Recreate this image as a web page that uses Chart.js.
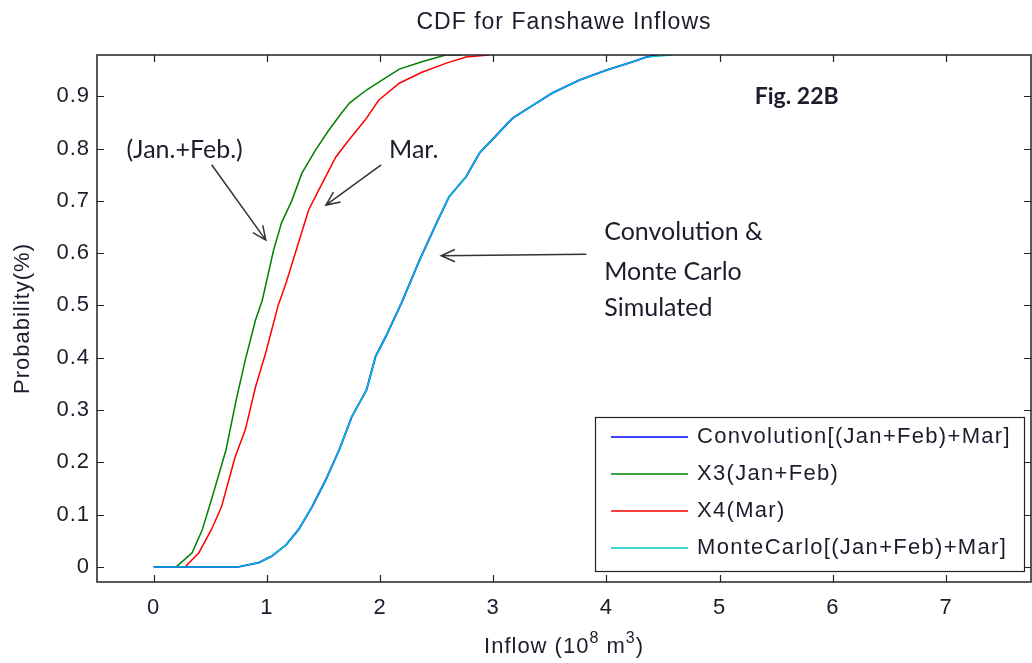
<!DOCTYPE html>
<html>
<head>
<meta charset="utf-8">
<title>CDF for Fanshawe Inflows</title>
<script src="https://cdn.jsdelivr.net/npm/chart.js@4.4.0/dist/chart.umd.min.js"></script>
<style>
    html, body { margin: 0; padding: 0; background: #fff; }
    #wrap { width: 1032px; height: 663px; }
</style>
</head>
<body>
<div id="wrap"><canvas id="cdfChart"></canvas></div>
<script>
// Valores (inflow em 10^8 m3, probabilidade acumulada)
const x3Inflow = [0.20, 0.34, 0.43, 0.51, 0.64, 0.73, 0.81, 0.90, 0.96, 1.06, 1.13, 1.22, 1.31, 1.43, 1.55, 1.66, 1.73, 1.88, 1.99, 2.17, 2.37, 2.58, 2.72];
const x3Prob   = [0, 0.027, 0.071, 0.128, 0.224, 0.320, 0.396, 0.472, 0.510, 0.606, 0.658, 0.700, 0.753, 0.797, 0.836, 0.868, 0.887, 0.912, 0.927, 0.952, 0.966, 0.979, 0.979];

const x4Inflow = [0.28, 0.40, 0.51, 0.60, 0.72, 0.81, 0.90, 0.99, 1.10, 1.17, 1.26, 1.37, 1.49, 1.61, 1.73, 1.87, 1.99, 2.17, 2.37, 2.58, 2.76, 2.96];
const x4Prob   = [0, 0.027, 0.071, 0.115, 0.210, 0.262, 0.344, 0.409, 0.500, 0.543, 0.606, 0.683, 0.734, 0.784, 0.818, 0.855, 0.893, 0.925, 0.946, 0.963, 0.975, 0.979];

const convInflow = [0, 0.75, 0.93, 1.04, 1.17, 1.28, 1.40, 1.52, 1.64, 1.75, 1.88, 1.96, 2.05, 2.19, 2.35, 2.50, 2.61, 2.76, 2.88, 3.03, 3.17, 3.35, 3.52, 3.76, 4.00, 4.23, 4.35, 4.45];
const convProb   = [0, 0, 0.008, 0.020, 0.042, 0.071, 0.115, 0.166, 0.224, 0.287, 0.338, 0.402, 0.440, 0.505, 0.587, 0.658, 0.708, 0.746, 0.792, 0.826, 0.858, 0.883, 0.906, 0.931, 0.950, 0.966, 0.975, 0.979];

const mcInflow = [0, 0.75, 0.93, 1.04, 1.17, 1.28, 1.40, 1.52, 1.64, 1.75, 1.88, 1.96, 2.05, 2.19, 2.35, 2.50, 2.61, 2.76, 2.88, 3.03, 3.17, 3.35, 3.52, 3.76, 4.00, 4.23, 4.35, 4.58];
const mcProb   = [0, 0, 0.008, 0.020, 0.042, 0.071, 0.115, 0.166, 0.224, 0.287, 0.338, 0.402, 0.440, 0.505, 0.587, 0.658, 0.708, 0.746, 0.792, 0.826, 0.858, 0.883, 0.906, 0.931, 0.950, 0.966, 0.975, 0.979];

const xTicks = [0, 1, 2, 3, 4, 5, 6, 7];
const yTicks = [0, 0.1, 0.2, 0.3, 0.4, 0.5, 0.6, 0.7, 0.8, 0.9];

// Anotações (posição em coordenadas dos dados)
const notas = [
    { text: '(Jan.+Feb.)', x: -0.24, y: 0.797 },
    { text: 'Mar.', x: 2.08, y: 0.797 },
    { text: 'Convolution &', x: 3.98, y: 0.641 },
    { text: 'Monte Carlo', x: 3.98, y: 0.564 },
    { text: 'Simulated', x: 3.98, y: 0.495 },
    { text: 'Fig. 22B', x: 5.31, y: 0.899, bold: true }
];
const setas = [
    { from: [0.513, 0.769], to: [0.991, 0.625] },
    { from: [2.01, 0.769], to: [1.522, 0.692] },
    { from: [3.823, 0.598], to: [2.54, 0.595] }
];

const titulo = 'CDF for Fanshawe Inflows';
// rótulo do eixo x: [texto, sobrescrito?]
const rotuloX = [['Inflow (10', false], ['8', true], [' m', false], ['3', true], [')', false]];

const fonteMatlab = '"Liberation Sans", Arial, sans-serif';
const fonteNota = 'Lato, "Open Sans", sans-serif';

function pontos(xs, ys) {
    return xs.map((x, i) => ({ x: x, y: ys[i] }));
}

// Espaçamento de letras parecido com o texto do MATLAB
const espacoPlugin = {
    id: 'espaco',
    beforeDraw(chart) { chart.ctx.letterSpacing = '1px'; }
};

// Moldura estilo MATLAB, ticks para dentro, títulos, legenda e anotações
const molduraPlugin = {
    id: 'moldura',
    afterDraw(chart) {
        const ctx = chart.ctx;
        const area = chart.chartArea;
        const sx = chart.scales.x;
        const sy = chart.scales.y;
        const tl = 7;
        const cx = (area.left + area.right) / 2;

        ctx.save();
        ctx.letterSpacing = '1px';
        ctx.strokeStyle = '#222';
        ctx.lineWidth = 1.5;
        ctx.strokeRect(area.left, area.top, area.right - area.left, area.bottom - area.top);

        ctx.beginPath();
        xTicks.forEach(v => {
            const px = Math.round(sx.getPixelForValue(v)) + 0.5;
            ctx.moveTo(px, area.bottom); ctx.lineTo(px, area.bottom - tl);
            ctx.moveTo(px, area.top); ctx.lineTo(px, area.top + tl);
        });
        yTicks.forEach(v => {
            const py = Math.round(sy.getPixelForValue(v)) + 0.5;
            ctx.moveTo(area.left, py); ctx.lineTo(area.left + tl, py);
            ctx.moveTo(area.right, py); ctx.lineTo(area.right - tl, py);
        });
        ctx.lineWidth = 1.2;
        ctx.stroke();

        // título centrado sobre a área do gráfico
        ctx.fillStyle = '#1c1c2c';
        ctx.textBaseline = 'middle';
        ctx.textAlign = 'center';
        ctx.font = '23px ' + fonteMatlab;
        ctx.fillText(titulo, cx, 23);

        // rótulo do eixo x com sobrescritos
        const fNormal = '22px ' + fonteMatlab, fSup = '16px ' + fonteMatlab;
        let total = 0;
        rotuloX.forEach(p => { ctx.font = p[1] ? fSup : fNormal; total += ctx.measureText(p[0]).width; });
        let xx = cx - total / 2;
        ctx.textAlign = 'left';
        ctx.textBaseline = 'alphabetic';
        rotuloX.forEach(p => {
            ctx.font = p[1] ? fSup : fNormal;
            ctx.fillText(p[0], xx, p[1] ? 643 : 653);
            xx += ctx.measureText(p[0]).width;
        });

        // anotações
        ctx.letterSpacing = '0px';
        ctx.textBaseline = 'middle';
        notas.forEach(n => {
            ctx.font = n.bold ? 'bold 23px ' + fonteNota : '25px ' + fonteNota;
            ctx.fillText(n.text, sx.getPixelForValue(n.x), sy.getPixelForValue(n.y));
        });

        ctx.strokeStyle = '#333';
        ctx.lineWidth = 1.5;
        setas.forEach(s => {
            const x1 = sx.getPixelForValue(s.from[0]), y1 = sy.getPixelForValue(s.from[1]);
            const x2 = sx.getPixelForValue(s.to[0]), y2 = sy.getPixelForValue(s.to[1]);
            const ang = Math.atan2(y2 - y1, x2 - x1);
            const len = 15, abre = 0.42;
            ctx.beginPath();
            ctx.moveTo(x1, y1); ctx.lineTo(x2, y2);
            ctx.moveTo(x2 - len * Math.cos(ang - abre), y2 - len * Math.sin(ang - abre));
            ctx.lineTo(x2, y2);
            ctx.lineTo(x2 - len * Math.cos(ang + abre), y2 - len * Math.sin(ang + abre));
            ctx.stroke();
        });

        // legenda
        const bw = 429, bh = 154;
        const bx = area.right - 7 - bw, by = area.bottom - 11 - bh;
        ctx.fillStyle = '#fff';
        ctx.fillRect(bx, by, bw, bh);
        ctx.strokeStyle = '#222';
        ctx.lineWidth = 1.2;
        ctx.strokeRect(bx + 0.5, by + 0.5, bw, bh);
        ctx.letterSpacing = '1.3px';
        ctx.font = '22px ' + fonteMatlab;
        chart.data.datasets.forEach((ds, i) => {
            const ly = by + 20 + i * 37;
            ctx.beginPath();
            ctx.strokeStyle = ds.borderColor;
            ctx.lineWidth = 1.5;
            ctx.moveTo(bx + 16, ly); ctx.lineTo(bx + 93, ly);
            ctx.stroke();
            ctx.fillStyle = '#1c1c2c';
            ctx.fillText(ds.label, bx + 102, ly);
        });
        ctx.restore();
    }
};

Chart.defaults.font.family = fonteMatlab;
Chart.defaults.color = '#1c1c2c';

const ctxCdf = document.getElementById('cdfChart').getContext('2d');
new Chart(ctxCdf, {
    type: 'line',
    data: {
        datasets: [
            { label: 'Convolution[(Jan+Feb)+Mar]', data: pontos(convInflow, convProb), borderColor: '#0000ff', borderWidth: 1.9, order: 1 },
            { label: 'X3(Jan+Feb)', data: pontos(x3Inflow, x3Prob), borderColor: '#008000', borderWidth: 1.5, order: 1 },
            { label: 'X4(Mar)', data: pontos(x4Inflow, x4Prob), borderColor: '#ff0000', borderWidth: 1.5, order: 1 },
            { label: 'MonteCarlo[(Jan+Feb)+Mar]', data: pontos(mcInflow, mcProb), borderColor: '#00c8c8', borderWidth: 1.4, order: 0 }
        ]
    },
    options: {
        responsive: true,
        maintainAspectRatio: false,
        animation: false,
        devicePixelRatio: 1,
        elements: { point: { radius: 0 }, line: { tension: 0, fill: false } },
        layout: { padding: { left: 0, right: 1, top: 55, bottom: 0 } },
        plugins: {
            legend: { display: false },
            tooltip: { enabled: false },
            title: { display: false }
        },
        scales: {
            x: {
                type: 'linear',
                min: -0.5,
                max: 7.75,
                grid: { display: false, drawTicks: false },
                border: { display: false },
                afterBuildTicks: s => { s.ticks = xTicks.map(v => ({ value: v })); },
                afterFit: s => { s.height = 81; },
                ticks: {
                    font: { size: 22 },
                    padding: 13,
                    maxRotation: 0,
                    autoSkip: false,
                    callback: v => String(v)
                }
            },
            y: {
                type: 'linear',
                min: -0.029,
                max: 0.979,
                grid: { display: false, drawTicks: false },
                border: { display: false },
                afterBuildTicks: s => { s.ticks = yTicks.map(v => ({ value: v })); },
                afterFit: s => { s.width = 97; },
                ticks: {
                    font: { size: 22 },
                    padding: 7,
                    autoSkip: false,
                    callback: v => String(v)
                },
                title: {
                    display: true,
                    text: 'Probability(%)',
                    font: { size: 22, lineHeight: 1.2 },
                    padding: { top: 10, bottom: 0 }
                }
            }
        }
    },
    plugins: [espacoPlugin, molduraPlugin]
});
</script>
</body>
</html>
